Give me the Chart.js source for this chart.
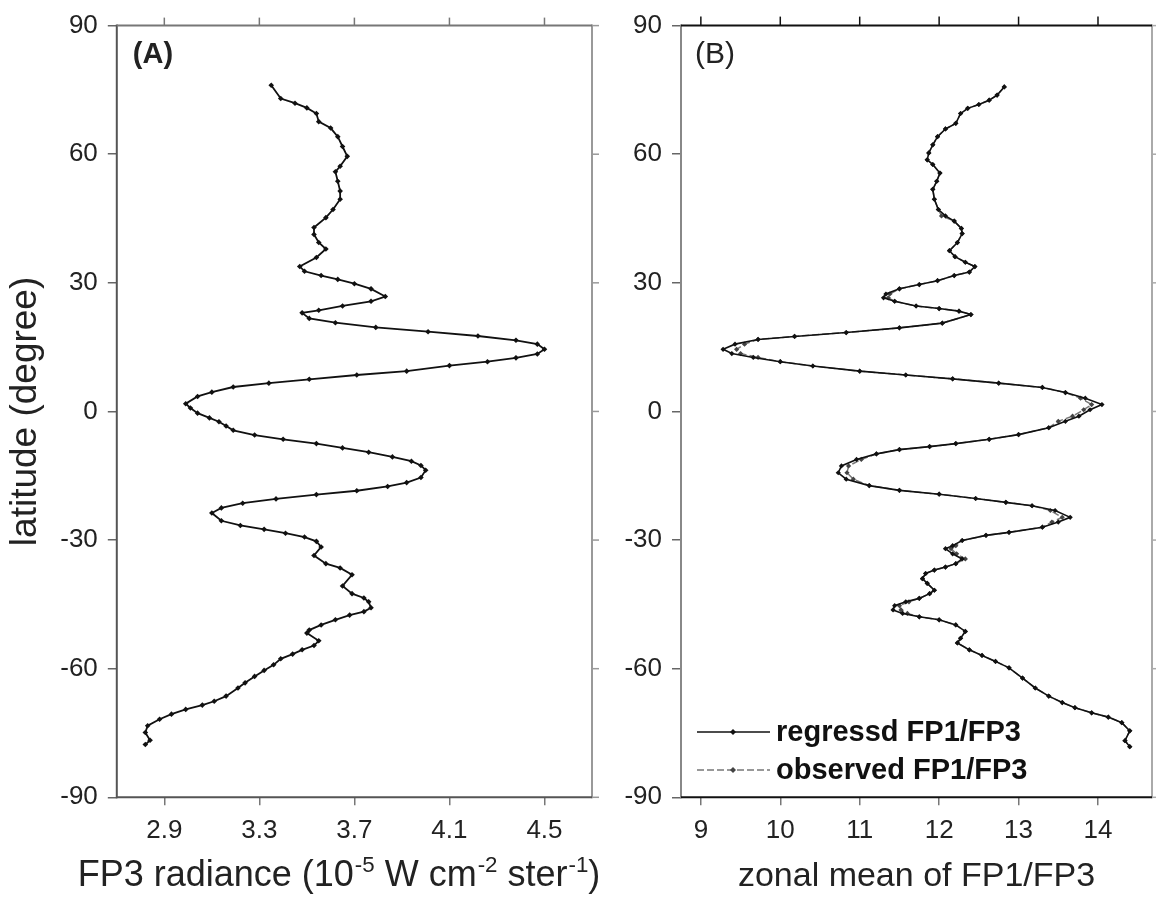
<!DOCTYPE html>
<html>
<head>
<meta charset="utf-8">
<script src="https://cdn.jsdelivr.net/npm/chart.js@4.4.0/dist/chart.umd.min.js"></script>
<style>
  html, body { margin: 0; padding: 0; background: #fff; }
  #wrap { position: relative; width: 1156px; height: 902px; overflow: hidden; }
  #panelA { position: absolute; left: 0; top: 0; }
  #panelB { position: absolute; left: 600px; top: 0; }
  #titleA {
    position: absolute; left: 39px; top: 853px; width: 600px;
    text-align: center; font-family: "Liberation Sans", Arial, Helvetica, sans-serif;
    font-size: 36px; line-height: 42px; color: #222; white-space: nowrap;
  }
  #titleA sup { font-size: 0.62em; vertical-align: 0.62em; line-height: 0; margin-left: 1px; }
</style>
</head>
<body>
<div id="wrap">
  <canvas id="panelA" width="600" height="902"></canvas>
  <canvas id="panelB" width="556" height="902"></canvas>
  <div id="titleA">FP3 radiance (10<sup>-5</sup> W cm<sup>-2</sup> ster<sup>-1</sup>)</div>
</div>
<script>
// ---- latitude axis (shared) ----
const latTicks = [-90, -60, -30, 0, 30, 60, 90];
const latTickLabels = ['-90', '-60', '-30', '0', '30', '60', '90'];

// ---- panel A: FP3 radiance profile ----
const radTicks = [2.9, 3.3, 3.7, 4.1, 4.5];
const radTickLabels = ['2.9', '3.3', '3.7', '4.1', '4.5'];
const latA = [
  76.1, 73.0, 71.9, 70.8, 69.5, 67.6, 66.1, 64.1, 61.8, 59.5,
  57.2, 55.9, 53.7, 51.4, 49.5, 47.1, 45.2, 42.9, 41.3, 39.4,
  37.9, 35.9, 33.8, 32.7, 31.7, 30.8, 29.8, 28.6, 26.8, 25.7,
  24.6, 23.6, 23.0, 21.7, 20.7, 19.6, 18.6, 17.6, 16.6, 15.7,
  14.5, 13.4, 12.5, 11.6, 10.7, 9.4, 8.5, 7.5, 6.6, 5.7,
  4.5, 3.5, 1.8, 0.8, -0.4, -1.5, -2.4, -3.4, -4.4, -5.5,
  -6.5, -7.5, -8.5, -9.5, -10.6, -11.6, -12.6, -13.7, -15.4, -16.6,
  -17.5, -18.5, -19.4, -20.4, -21.4, -22.5, -23.7, -25.5, -26.6, -27.5,
  -28.4, -29.3, -30.3, -31.6, -33.6, -35.5, -36.5, -38.1, -40.7, -42.5,
  -43.5, -44.4, -45.8, -46.7, -47.5, -48.6, -49.8, -51.0, -51.7, -53.5,
  -54.6, -55.6, -56.6, -57.7, -59.1, -60.4, -61.8, -63.3, -64.5, -66.4,
  -67.6, -68.5, -69.5, -70.6, -71.8, -73.3, -74.9, -76.7, -77.7
];
const fp3Radiance = [
  3.35, 3.39, 3.45, 3.50, 3.54, 3.55, 3.60, 3.63, 3.65, 3.67,
  3.64, 3.62, 3.63, 3.64, 3.64, 3.61, 3.58, 3.53, 3.53, 3.55,
  3.58, 3.54, 3.47, 3.49, 3.56, 3.63, 3.70, 3.77, 3.83, 3.77,
  3.65, 3.55, 3.48, 3.51, 3.62, 3.79, 4.01, 4.22, 4.38, 4.47,
  4.50, 4.47, 4.38, 4.26, 4.10, 3.92, 3.71, 3.51, 3.34, 3.19,
  3.10, 3.04, 2.99, 3.01, 3.04, 3.09, 3.13, 3.16, 3.19, 3.28,
  3.40, 3.54, 3.65, 3.76, 3.86, 3.94, 3.98, 4.00, 3.98, 3.92,
  3.84, 3.71, 3.54, 3.37, 3.23, 3.14, 3.10, 3.14, 3.22, 3.32,
  3.41, 3.49, 3.54, 3.56, 3.53, 3.58, 3.64, 3.69, 3.65, 3.69,
  3.74, 3.76, 3.77, 3.74, 3.68, 3.62, 3.56, 3.51, 3.50, 3.55,
  3.53, 3.48, 3.44, 3.39, 3.36, 3.32, 3.28, 3.24, 3.21, 3.16,
  3.11, 3.06, 2.99, 2.93, 2.88, 2.83, 2.82, 2.84, 2.82
];

// ---- panel B: zonal mean FP1/FP3 ratio ----
const ratioTicks = [9, 10, 11, 12, 13, 14];
const ratioTickLabels = ['9', '10', '11', '12', '13', '14'];
const latB = [
  75.7, 73.8, 72.6, 71.6, 70.7, 69.5, 67.2, 65.9, 64.1, 62.2,
  60.3, 58.7, 57.6, 55.6, 53.7, 51.8, 49.5, 47.1, 45.6, 44.4,
  42.7, 41.5, 39.4, 37.5, 36.1, 34.8, 33.8, 32.5, 31.7, 30.5,
  29.6, 28.6, 27.4, 26.5, 25.7, 24.6, 24.0, 23.4, 22.6, 20.6,
  19.5, 18.4, 17.5, 16.8, 15.7, 14.5, 13.5, 12.6, 11.6, 10.6,
  9.4, 8.5, 7.6, 6.6, 5.6, 4.4, 3.1, 1.6, 0.4, -1.1,
  -2.3, -3.8, -5.4, -6.5, -7.5, -8.2, -8.9, -9.9, -11.2, -12.7,
  -14.3, -15.8, -17.3, -18.4, -19.3, -20.3, -21.2, -22.0, -23.1, -24.7,
  -25.8, -27.0, -28.2, -28.9, -30.1, -31.3, -32.0, -33.2, -34.4, -35.5,
  -36.3, -37.0, -37.8, -39.0, -40.1, -41.7, -42.5, -43.6, -44.4, -45.3,
  -46.3, -47.1, -47.9, -48.6, -49.8, -51.3, -52.9, -54.0, -55.6, -56.9,
  -58.3, -59.8, -62.2, -64.5, -66.4, -67.9, -69.1, -70.3, -71.3, -72.6,
  -74.5, -76.8, -78.2
];
const regressedRatio = [
  12.82, 12.73, 12.63, 12.50, 12.36, 12.27, 12.21, 12.08, 11.98, 11.92,
  11.87, 11.85, 11.92, 12.01, 11.97, 11.92, 11.94, 11.99, 12.08, 12.19,
  12.28, 12.29, 12.23, 12.13, 12.20, 12.33, 12.45, 12.38, 12.19, 11.98,
  11.75, 11.50, 11.33, 11.30, 11.44, 11.71, 12.00, 12.25, 12.40, 12.04,
  11.50, 10.83, 10.18, 9.72, 9.43, 9.28, 9.39, 9.66, 10.00, 10.41,
  11.00, 11.58, 12.17, 12.75, 13.30, 13.59, 13.84, 14.05, 13.90, 13.76,
  13.59, 13.38, 13.00, 12.63, 12.21, 11.88, 11.50, 11.21, 10.96, 10.77,
  10.73, 10.83, 11.12, 11.50, 12.00, 12.46, 12.84, 13.17, 13.46, 13.65,
  13.50, 13.30, 12.88, 12.59, 12.29, 12.17, 12.08, 12.17, 12.29, 12.21,
  12.08, 11.94, 11.83, 11.79, 11.85, 11.94, 11.88, 11.75, 11.58, 11.44,
  11.42, 11.54, 11.75, 12.00, 12.21, 12.33, 12.27, 12.23, 12.38, 12.54,
  12.71, 12.88, 13.05, 13.21, 13.38, 13.55, 13.71, 13.92, 14.13, 14.30,
  14.40, 14.34, 14.40
];
const observedRatio = [
  12.82, 12.73, 12.63, 12.50, 12.36, 12.27, 12.21, 12.08, 11.98, 11.92,
  11.87, 11.85, 11.92, 12.01, 11.97, 11.92, 11.94, 11.99, 12.03, 12.19,
  12.28, 12.29, 12.23, 12.13, 12.20, 12.33, 12.45, 12.38, 12.19, 11.98,
  11.75, 11.50, 11.38, 11.36, 11.44, 11.71, 12.00, 12.25, 12.40, 12.04,
  11.50, 10.83, 10.18, 9.72, 9.55, 9.45, 9.50, 9.72, 10.00, 10.41,
  11.00, 11.58, 12.17, 12.75, 13.30, 13.59, 13.78, 13.92, 13.82, 13.68,
  13.50, 13.38, 13.00, 12.63, 12.21, 11.88, 11.50, 11.21, 11.02, 10.86,
  10.84, 10.92, 11.12, 11.50, 12.00, 12.46, 12.84, 13.17, 13.40, 13.55,
  13.42, 13.30, 12.88, 12.59, 12.29, 12.21, 12.15, 12.22, 12.33, 12.21,
  12.08, 11.94, 11.83, 11.79, 11.85, 11.94, 11.88, 11.75, 11.62, 11.50,
  11.52, 11.60, 11.75, 12.00, 12.21, 12.33, 12.27, 12.23, 12.38, 12.54,
  12.71, 12.88, 13.05, 13.21, 13.38, 13.55, 13.71, 13.92, 14.13, 14.30,
  14.40, 14.34, 14.40
];

const FONT = '"Liberation Sans", Arial, Helvetica, sans-serif';
const CANVAS_H = 902;
const PLOT_TOP = 20;
const PLOT_BOTTOM = 797.3;

const pairs = (xs, ys) => xs.map((v, i) => ({ x: v, y: ys[i] }));

// Frame around the plot area, outward ticks on the top and right edges,
// the panel letter and (optionally) a key with line samples.
const framePlugin = {
  id: 'frame',
  afterDatasetsDraw(chart, args, o) {
    const { ctx, chartArea: a, scales: { x, y } } = chart;
    ctx.save();
    ctx.lineCap = 'butt';
    const seg = (x1, y1, x2, y2, c, w) => {
      ctx.strokeStyle = c; ctx.lineWidth = w;
      ctx.beginPath(); ctx.moveTo(x1, y1); ctx.lineTo(x2, y2); ctx.stroke();
    };
    // top ticks (outward)
    x.ticks.forEach(t => {
      const px = x.getPixelForValue(t.value);
      seg(px, a.top, px, a.top - o.topTick, o.topTickColor, 1.5);
    });
    // right ticks (outward)
    y.ticks.forEach(t => {
      const py = y.getPixelForValue(t.value);
      seg(a.right, py, a.right + o.rightTick, py, o.rightColor, 1.5);
    });
    // frame
    seg(a.left, a.top - 1, a.left, a.bottom + 1, o.leftColor, 2);
    seg(a.right, a.top - 1, a.right, a.bottom + 1, o.rightColor, 2);
    seg(a.left, a.top, a.right, a.top, o.topColor, 2);
    seg(a.left, a.bottom, a.right, a.bottom, o.bottomColor, 2);
    // panel letter
    ctx.fillStyle = '#222';
    ctx.font = o.letterFont;
    ctx.textBaseline = 'middle';
    ctx.textAlign = 'left';
    ctx.fillText(o.letter, a.left + o.letterDx, a.top + o.letterDy);
    // key
    if (o.key) {
      const k = o.key;
      chart.data.datasets.forEach((ds, i) => {
        const yy = k.y + i * k.gap;
        ctx.strokeStyle = ds.borderColor;
        ctx.lineWidth = ds.borderWidth;
        ctx.setLineDash(ds.borderDash || []);
        ctx.beginPath(); ctx.moveTo(k.x0, yy); ctx.lineTo(k.x1, yy); ctx.stroke();
        ctx.setLineDash([]);
        const r = ds.pointRadius + 0.4;
        const mx = k.xm;
        ctx.fillStyle = ds.pointBackgroundColor;
        ctx.beginPath();
        ctx.moveTo(mx, yy - r); ctx.lineTo(mx + r, yy); ctx.lineTo(mx, yy + r); ctx.lineTo(mx - r, yy);
        ctx.closePath(); ctx.fill();
        ctx.fillStyle = '#111';
        ctx.font = k.font;
        ctx.fillText(ds.label, k.xt, yy + 1);
      });
    }
    ctx.restore();
  }
};

function latScale(width, withTitle) {
  return {
    type: 'linear',
    min: -90, max: 90,
    afterBuildTicks: s => { s.ticks = latTicks.map(v => ({ value: v })); },
    afterFit: s => { s.width = width; },
    ticks: {
      callback: (v, i) => latTickLabels[i],
      font: { family: FONT, size: 26 },
      color: '#222',
      padding: 10
    },
    grid: { drawOnChartArea: false, drawTicks: true, tickLength: 9, tickColor: '#666', lineWidth: 1.5 },
    border: { display: false },
    title: withTitle ? {
      display: true, text: 'latitude (degree)',
      font: { family: FONT, size: 37 }, color: '#222',
      padding: { top: 4, bottom: 0 }
    } : { display: false }
  };
}

function valueScale(min, max, ticks, labels, titleText) {
  return {
    type: 'linear',
    min, max,
    afterBuildTicks: s => { s.ticks = ticks.map(v => ({ value: v })); },
    afterFit: s => { s.height = CANVAS_H - PLOT_BOTTOM; },
    ticks: {
      callback: (v, i) => labels[i],
      font: { family: FONT, size: 26 },
      color: '#222',
      padding: 10
    },
    grid: { drawOnChartArea: false, drawTicks: true, tickLength: 8, tickColor: '#777', lineWidth: 1.5 },
    border: { display: false },
    title: titleText ? {
      display: true, text: titleText,
      font: { family: FONT, size: 34 }, color: '#222',
      padding: { top: 0, bottom: 5 }
    } : { display: false }
  };
}

const common = {
  responsive: false,
  animation: false,
  events: [],
  plugins: { legend: { display: false }, tooltip: { enabled: false } }
};

new Chart(document.getElementById('panelA'), {
  type: 'scatter',
  data: {
    datasets: [{
      label: 'FP3 radiance',
      data: pairs(fp3Radiance, latA),
      showLine: true,
      borderColor: '#111',
      borderWidth: 1.8,
      pointStyle: 'rectRot',
      pointRadius: 2.8,
      pointBackgroundColor: '#111',
      pointBorderWidth: 0,
      tension: 0
    }]
  },
  options: {
    ...common,
    layout: { padding: { top: PLOT_TOP, right: 8, bottom: 0, left: 0 } },
    scales: {
      x: valueScale(2.7, 4.7, radTicks, radTickLabels, null),
      y: latScale(116.8, true)
    },
    plugins: {
      ...common.plugins,
      frame: {
        topTick: 8, rightTick: 7,
        topTickColor: '#777',
        leftColor: '#555', rightColor: '#999', topColor: '#777', bottomColor: '#555',
        letter: '(A)', letterFont: 'bold 29px ' + FONT, letterDx: 16, letterDy: 29
      }
    }
  },
  plugins: [framePlugin]
});

new Chart(document.getElementById('panelB'), {
  type: 'scatter',
  data: {
    datasets: [{
      label: 'regressd FP1/FP3',
      data: pairs(regressedRatio, latB),
      showLine: true,
      borderColor: '#111',
      borderWidth: 1.6,
      pointStyle: 'rectRot',
      pointRadius: 2.6,
      pointBackgroundColor: '#111',
      pointBorderWidth: 0,
      tension: 0
    }, {
      label: 'observed FP1/FP3',
      data: pairs(observedRatio, latB),
      showLine: true,
      borderColor: '#777',
      borderWidth: 1.5,
      borderDash: [7, 3],
      pointStyle: 'rectRot',
      pointRadius: 2.6,
      pointBackgroundColor: '#444',
      pointBorderWidth: 0,
      tension: 0
    }]
  },
  options: {
    ...common,
    layout: { padding: { top: PLOT_TOP, right: 2, bottom: 0, left: 0 } },
    scales: {
      x: valueScale(8.75, 14.68, ratioTicks, ratioTickLabels, 'zonal mean of FP1/FP3'),
      y: latScale(81, false)
    },
    plugins: {
      ...common.plugins,
      frame: {
        topTick: 9, rightTick: 7,
        topTickColor: '#111',
        leftColor: '#888', rightColor: '#aaa', topColor: '#111', bottomColor: '#111',
        letter: '(B)', letterFont: '30px ' + FONT, letterDx: 14, letterDy: 29,
        key: { x0: 97, x1: 170, xm: 133, xt: 176, y: 732, gap: 38, font: 'bold 29px ' + FONT }
      }
    }
  },
  plugins: [framePlugin]
});
</script>
</body>
</html>
